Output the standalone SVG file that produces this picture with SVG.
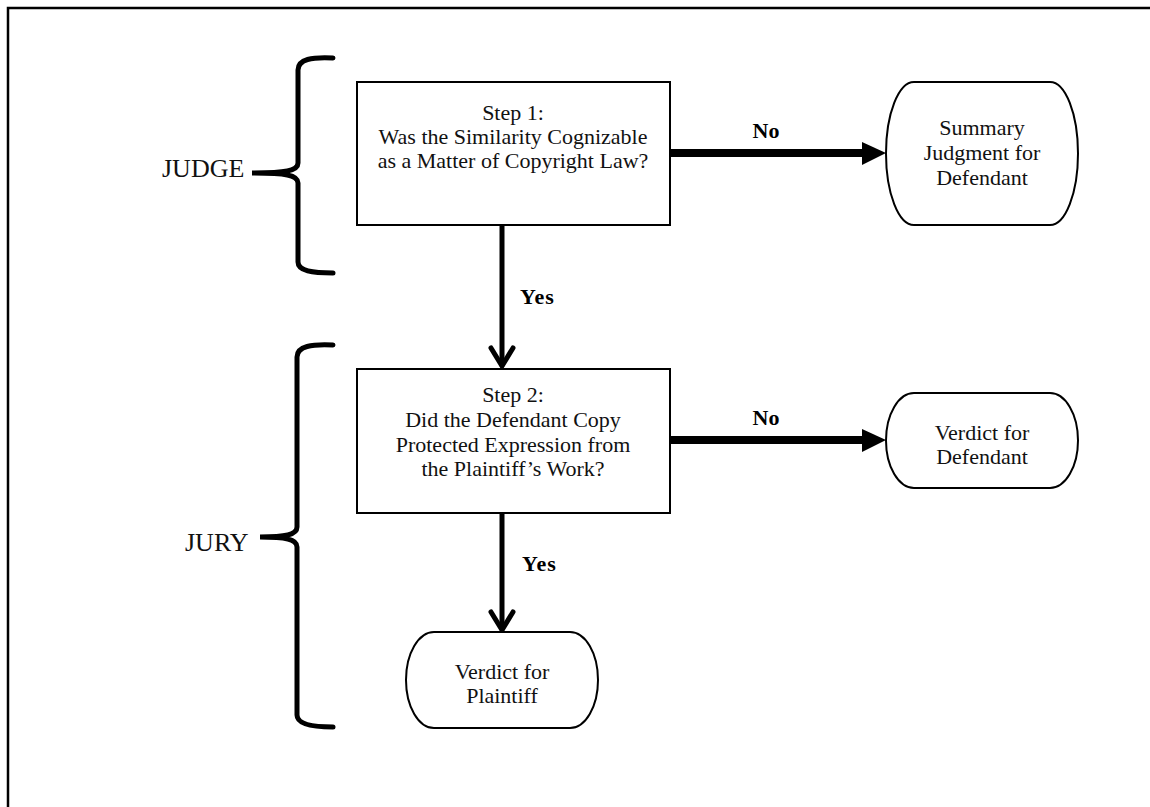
<svg xmlns="http://www.w3.org/2000/svg" width="1150" height="807" viewBox="0 0 1150 807">
<style>
.t{font-family:"Liberation Serif","Times New Roman",serif;font-size:22px;fill:#111;text-anchor:middle}
.b{font-family:"Liberation Serif","Times New Roman",serif;font-size:22px;font-weight:bold;fill:#000}
.big{font-family:"Liberation Serif","Times New Roman",serif;font-size:26px;fill:#111}
.box{fill:#fff;stroke:#000;stroke-width:2}
.brace{fill:none;stroke:#000;stroke-width:5;stroke-linecap:round}
.thick{stroke:#000;stroke-width:8}
.thin{stroke:#000;stroke-width:5;fill:none;stroke-linecap:round}
</style>
<rect width="1150" height="807" fill="#fff"/>
<path d="M8,807 V8 H1150" fill="none" stroke="#000" stroke-width="2.5"/>
<g id="judge">
<path class="brace" d="M333,58 C312,57 298,59 298,70 V163 C298,171 285,173 252,173 C285,173 298,175 298,183 V262 C298,271 312,273 333,273"/>
<text class="big" x="162" y="177">JUDGE</text>
</g>
<g id="jury">
<path class="brace" d="M333,345 C312,344 297,346 297,357 V527 C297,535 285,537 260,537 C285,537 297,539 297,547 V715 C297,724 312,727 333,727"/>
<text class="big" x="185" y="551">JURY</text>
</g>
<g id="connectors">
<line class="thick" x1="670" y1="153" x2="864" y2="153"/>
<polygon points="862,142 886,153 862,165" fill="#000"/>
<text class="b" x="766" y="138" text-anchor="middle">No</text>
<line class="thick" x1="670" y1="440" x2="864" y2="440"/>
<polygon points="862,429 886,440 862,452" fill="#000"/>
<text class="b" x="766" y="425" text-anchor="middle">No</text>
<line class="thin" x1="502" y1="225" x2="502" y2="365"/>
<polyline class="thin" points="491,348 502,366 513,348"/>
<text class="b" x="520" y="304" letter-spacing="1">Yes</text>
<line class="thin" x1="502" y1="513" x2="502" y2="629"/>
<polyline class="thin" points="491,612 502,630 513,612"/>
<text class="b" x="522" y="571" letter-spacing="1">Yes</text>
</g>
<g id="step1">
<rect class="box" x="357" y="82" width="313" height="143"/>
<text class="t" x="513" y="120">Step 1:</text>
<text class="t" x="513" y="144">Was the Similarity Cognizable</text>
<text class="t" x="513" y="168">as a Matter of Copyright Law?</text>
</g>
<g id="step2">
<rect class="box" x="357" y="369" width="313" height="144"/>
<text class="t" x="513" y="402">Step 2:</text>
<text class="t" x="513" y="427">Did the Defendant Copy</text>
<text class="t" x="513" y="452">Protected Expression from</text>
<text class="t" x="513" y="476">the Plaintiff’s Work?</text>
</g>
<g id="summary">
<path class="box" d="M914,82 H1050 A28,71.5 0 0 1 1050,225 H914 A28,71.5 0 0 1 914,82 Z"/>
<text class="t" x="982" y="135">Summary</text>
<text class="t" x="982" y="160">Judgment for</text>
<text class="t" x="982" y="185">Defendant</text>
</g>
<g id="verdict-defendant">
<path class="box" d="M914,393 H1050 A28,47.5 0 0 1 1050,488 H914 A28,47.5 0 0 1 914,393 Z"/>
<text class="t" x="982" y="440">Verdict for</text>
<text class="t" x="982" y="464">Defendant</text>
</g>
<g id="verdict-plaintiff">
<path class="box" d="M434,632 H570 A28,48 0 0 1 570,728 H434 A28,48 0 0 1 434,632 Z"/>
<text class="t" x="502" y="679">Verdict for</text>
<text class="t" x="502" y="703">Plaintiff</text>
</g>
</svg>
